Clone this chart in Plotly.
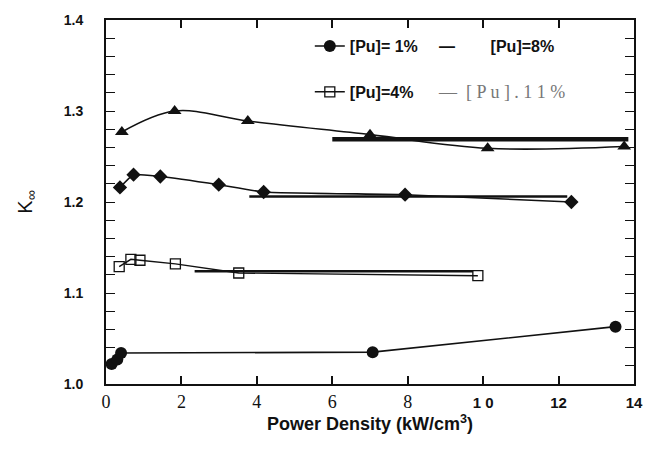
import plotly.graph_objects as go

# ---------------- data ----------------
pu1_x = [0.15, 0.30, 0.40, 7.07, 13.51]
pu1_y = [1.022, 1.027, 1.034, 1.035, 1.063]

pu4_x = [0.35, 0.66, 0.90, 1.84, 3.52, 9.86]
pu4_y = [1.129, 1.137, 1.136, 1.132, 1.122, 1.119]

pu8_x = [0.37, 0.73, 1.44, 2.99, 4.18, 7.93, 12.34]
pu8_y = [1.216, 1.230, 1.228, 1.219, 1.211, 1.208, 1.200]

pu11_x = [0.42, 1.82, 3.76, 7.00, 10.12, 13.74]
pu11_y = [1.277, 1.300, 1.289, 1.274, 1.259, 1.261]

# horizontal reference (average) lines: [Pu]=4%, 8%, 11%
ref_x0 = [2.35, 3.80, 6.00]
ref_x1 = [9.73, 12.23, 13.85]
ref_y = [1.124, 1.206, 1.269]

x_tickvals = [0, 2, 4, 6, 8, 10, 12, 14]
x_ticktext = ["0", "2", "4", "6", "8", "1 0", "12", "14"]
y_tickvals = [1.0, 1.1, 1.2, 1.3, 1.4]
y_ticktext = ["1.0", "1.1", "1.2", "1.3", "1.4"]

legend_names = ["[Pu]= 1%", "[Pu]=4%", "[Pu]=8%", "[ P u ] . 1 1 %"]

# ---------------- styles ----------------
SANS = "Liberation Sans, Arial, sans-serif"
SERIF = "Liberation Serif, Times New Roman, serif"
BLACK = "#111111"

fig = go.Figure()

# reference lines
ref_widths = [2.5, 2.5, 4.5]
for x0, x1, yv, w in zip(ref_x0, ref_x1, ref_y, ref_widths):
    fig.add_trace(go.Scatter(x=[x0, x1], y=[yv, yv], mode="lines",
                             line=dict(color=BLACK, width=w),
                             showlegend=False, hoverinfo="skip"))

# [Pu]=11% triangles (smooth curve)
fig.add_trace(go.Scatter(x=pu11_x, y=pu11_y, mode="lines+markers",
                         line=dict(color=BLACK, width=1.6, shape="spline", smoothing=1.0),
                         marker=dict(symbol="triangle-up", size=12, color=BLACK),
                         showlegend=False, name="[Pu]=11%"))
# [Pu]=8% diamonds
fig.add_trace(go.Scatter(x=pu8_x, y=pu8_y, mode="lines+markers",
                         line=dict(color=BLACK, width=1.6, shape="spline", smoothing=0.4),
                         marker=dict(symbol="diamond", size=11, color=BLACK),
                         showlegend=False, name="[Pu]=8%"))
# [Pu]=4% open squares
fig.add_trace(go.Scatter(x=pu4_x, y=pu4_y, mode="lines+markers",
                         line=dict(color=BLACK, width=1.4),
                         marker=dict(symbol="square-open", size=10, color=BLACK,
                                     line=dict(width=1.3)),
                         name=legend_names[1], legend="legend", legendgroup="g4"))
# [Pu]=1% filled circles
fig.add_trace(go.Scatter(x=pu1_x, y=pu1_y, mode="lines+markers",
                         line=dict(color=BLACK, width=1.6),
                         marker=dict(symbol="circle", size=12, color=BLACK),
                         name=legend_names[0], legend="legend", legendgroup="g1",
                         legendrank=1))

# legend entries for 8% and 11% (dash drawn as text, as in the reference)
nb = "\u00a0"
fig.add_trace(go.Scatter(x=[None], y=[None], mode="lines", line=dict(width=0, color="white"),
                         name="—" + nb * 8 + legend_names[2],
                         legend="legend2", legendgroup="g8", legendrank=1))
fig.add_trace(go.Scatter(x=[None], y=[None], mode="lines", line=dict(width=0, color="white"),
                         name='<span style="font-family:Liberation Serif;font-weight:normal;'
                              'font-size:18px;color:#777777">—' + nb * 2
                              + legend_names[3] + "</span>",
                         legend="legend2", legendgroup="g11", legendrank=2))

xt_styled = []
for t in x_ticktext:
    if t in ("1 0", "12", "14"):
        xt_styled.append('<span style="font-family:Liberation Sans;font-weight:bold;'
                         'font-size:15px">' + t + "</span>")
    else:
        xt_styled.append('<span style="font-family:Liberation Serif;font-weight:normal;'
                         'font-size:18px">' + t + "</span>")

fig.update_layout(
    width=662, height=449,
    margin=dict(l=106, r=28, t=17, b=65),
    paper_bgcolor="white", plot_bgcolor="white",
    showlegend=True,
    legend=dict(x=0.386, y=0.975, xanchor="left", yanchor="top",
                bgcolor="rgba(0,0,0,0)", borderwidth=0,
                font=dict(family=SANS, size=16, color=BLACK, weight="bold"),
                tracegroupgap=22, traceorder="grouped"),
    legend2=dict(x=0.555, y=0.975, xanchor="left", yanchor="top",
                 bgcolor="rgba(0,0,0,0)", borderwidth=0,
                 font=dict(family=SANS, size=16, color=BLACK, weight="bold"),
                 tracegroupgap=22, traceorder="grouped"),
    xaxis=dict(range=[0, 14], showgrid=False, zeroline=False,
               showline=True, linecolor=BLACK, linewidth=2, mirror="ticks",
               ticks="inside", ticklen=8, tickwidth=1.5, tickcolor=BLACK,
               tickvals=x_tickvals, ticktext=xt_styled,
               tickfont=dict(family=SERIF, size=18, color=BLACK),
               ticklabelstandoff=0,
               title=dict(text="Power Density (kW/cm<sup>3</sup>)",
                          font=dict(family=SANS, size=18, color=BLACK, weight="bold"),
                          standoff=0)),
    yaxis=dict(range=[1.0, 1.4], showgrid=False, zeroline=False,
               showline=True, linecolor=BLACK, linewidth=2, mirror="ticks",
               ticks="inside", ticklen=9, tickwidth=1.3, tickcolor=BLACK,
               tickvals=y_tickvals, ticktext=y_ticktext,
               tickfont=dict(family=SANS, size=14, color=BLACK, weight="bold"),
               ticklabelstandoff=18,
               minor=dict(dtick=0.02, tick0=1.0, ticks="inside", ticklen=9,
                          tickwidth=1.3, tickcolor=BLACK),
               title=dict(text="K<sub>∞</sub>",
                          font=dict(family=SANS, size=20, color=BLACK),
                          standoff=26)),
)

fig.write_html("out.html")
